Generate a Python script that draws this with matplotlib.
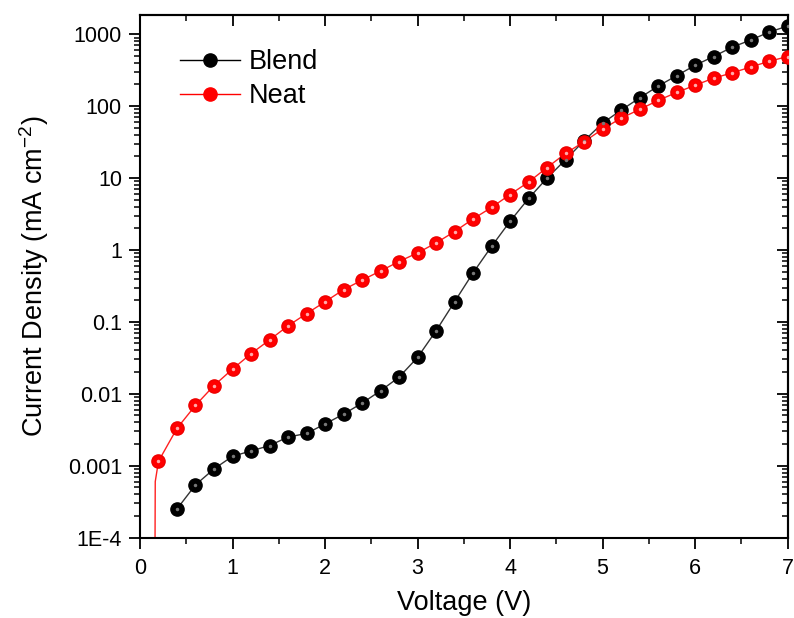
import matplotlib
matplotlib.use("Agg")
import matplotlib.pyplot as plt
from matplotlib.ticker import FixedLocator, FixedFormatter, LogLocator, MultipleLocator, NullFormatter

plt.rcParams['font.family'] = ['Liberation Sans', 'DejaVu Sans']
plt.rcParams['mathtext.default'] = 'regular'

# J-V data, 0.2 V steps
blend_v = [0.4, 0.6, 0.8, 1.0, 1.2, 1.4, 1.6, 1.8, 2.0, 2.2, 2.4, 2.6, 2.8, 3.0,
           3.2, 3.4, 3.6, 3.8, 4.0, 4.2, 4.4, 4.6, 4.8, 5.0, 5.2, 5.4, 5.6, 5.8,
           6.0, 6.2, 6.4, 6.6, 6.8, 7.0]
blend_j = [2.5e-4, 5.4e-4, 9.0e-4, 1.35e-3, 1.6e-3, 1.9e-3, 2.5e-3, 2.8e-3,
           3.8e-3, 5.2e-3, 7.4e-3, 0.011, 0.017, 0.032, 0.075, 0.19, 0.48, 1.12,
           2.5, 5.2, 10, 18, 33, 58, 88, 130, 190, 265, 370, 490, 660, 830,
           1070, 1300]

neat_v = [0.2, 0.4, 0.6, 0.8, 1.0, 1.2, 1.4, 1.6, 1.8, 2.0, 2.2, 2.4, 2.6, 2.8,
          3.0, 3.2, 3.4, 3.6, 3.8, 4.0, 4.2, 4.4, 4.6, 4.8, 5.0, 5.2, 5.4, 5.6,
          5.8, 6.0, 6.2, 6.4, 6.6, 6.8, 7.0]
neat_j = [1.15e-3, 3.3e-3, 6.9e-3, 0.013, 0.022, 0.036, 0.056, 0.088, 0.13,
          0.19, 0.28, 0.38, 0.51, 0.69, 0.91, 1.25, 1.8, 2.7, 3.9, 5.9, 8.8,
          14, 22, 32, 48, 68, 90, 120, 155, 195, 245, 290, 350, 420, 490]

# low-voltage part of the neat curve (line only, drops below the axis)
neat_tail_v = [0.16, 0.165]
neat_tail_j = [1e-5, 6e-4]

ytick_vals = [1e-4, 1e-3, 1e-2, 0.1, 1, 10, 100, 1000]
ytick_labels = ['1E-4', '0.001', '0.01', '0.1', '1', '10', '100', '1000']

fig = plt.figure(figsize=(7.94, 6.18), dpi=100)
ax = fig.add_axes([0.1763, 0.1302, 0.8157, 0.8455])

ax.plot(neat_tail_v + neat_v, neat_tail_j + neat_j, '-', color='#ff2020', lw=1.0, zorder=2)
ax.plot(blend_v, blend_j, '-', color='#333333', lw=1.0, zorder=2)

ax.plot(blend_v, blend_j, 'o', color='black', ms=9.5, mec='black', zorder=3)
ax.plot(blend_v, blend_j, 'o', color='#777777', ms=2.5, mew=0, zorder=4)
ax.plot(neat_v, neat_j, 'o', color='#ff0000', ms=9.5, mec='#ee0000', zorder=3)
ax.plot(neat_v, neat_j, 'o', color='#ffaaaa', ms=2.5, mew=0, zorder=4)

# legend handles
h1, = ax.plot([], [], '-o', color='black', lw=1.0, ms=9.5, label='Blend')
h2, = ax.plot([], [], '-o', color='red', lw=1.0, ms=9.5, label='Neat')
ax.legend(handles=[h1, h2], loc='upper left', bbox_to_anchor=(0.062, 0.935),
          frameon=False, fontsize=19.5, handlelength=2.2, handletextpad=0.35,
          labelspacing=0.3, borderpad=0, borderaxespad=0)

ax.set_yscale('log')
ax.set_xlim(0, 7)
ax.set_ylim(1e-4, 1850)

ax.xaxis.set_major_locator(MultipleLocator(1))
ax.xaxis.set_minor_locator(MultipleLocator(0.5))
ax.yaxis.set_major_locator(FixedLocator(ytick_vals))
ax.yaxis.set_major_formatter(FixedFormatter(ytick_labels))
ax.yaxis.set_minor_locator(LogLocator(base=10, subs=range(2, 10), numticks=20))
ax.yaxis.set_minor_formatter(NullFormatter())

ax.tick_params(which='major', direction='out', length=8, width=1.3, labelsize=15.5, pad=5)
ax.tick_params(which='minor', direction='out', length=4, width=1.1)
ax.tick_params(axis='x', which='major', pad=7)

# inward ticks on top and right
top = ax.secondary_xaxis('top')
top.xaxis.set_major_locator(MultipleLocator(1))
top.xaxis.set_minor_locator(MultipleLocator(0.5))
top.tick_params(which='major', direction='in', length=8, width=1.3, labeltop=False)
top.tick_params(which='minor', direction='in', length=4, width=1.1)
right = ax.secondary_yaxis('right')
right.set_yscale('log')
right.yaxis.set_major_locator(FixedLocator(ytick_vals))
right.yaxis.set_minor_locator(LogLocator(base=10, subs=range(2, 10), numticks=20))
right.tick_params(which='major', direction='in', length=8, width=1.3, labelright=False)
right.tick_params(which='minor', direction='in', length=4, width=1.1, labelright=False)
right.yaxis.set_minor_formatter(NullFormatter())
for a in (top, right):
    for s in a.spines.values():
        s.set_linewidth(1.5)

for s in ax.spines.values():
    s.set_linewidth(1.5)

ax.set_xlabel('Voltage (V)', fontsize=19.5, labelpad=8)
ax.set_ylabel('Current Density (mA cm$^{-2}$)', fontsize=19.5, labelpad=12)

fig.savefig('out.png', dpi=100)
